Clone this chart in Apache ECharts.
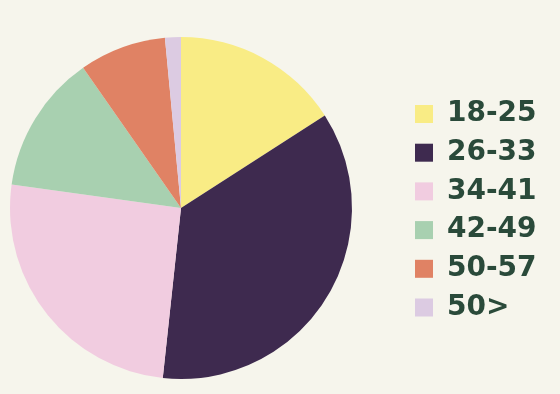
<!DOCTYPE html>
<html>
<head>
<meta charset="utf-8">
<script src="https://cdn.jsdelivr.net/npm/echarts@6/dist/echarts.min.js"></script>
<style>
html,body{margin:0;padding:0;background:#f6f5ec;}
#c{width:560px;height:394px;}
</style>
</head>
<body>
<div id="c"></div>
<script>
const categories = ['18-25', '26-33', '34-41', '42-49', '50-57', '50>'];
const values = [15.9, 35.8, 25.5, 13.1, 8.2, 1.5];
const colors = ['#f9ec85', '#3e2a4f', '#f1cce0', '#a8d0b0', '#e08264', '#dccbe2'];

const chart = echarts.init(document.getElementById('c'), null, {renderer: 'canvas'});
chart.setOption({
  backgroundColor: '#f6f5ec',
  animation: false,
  color: colors,
  legend: {
    orient: 'vertical',
    left: 415,
    top: 100,
    padding: 0,
    itemWidth: 18,
    itemHeight: 18,
    itemGap: 10.7,
    icon: 'rect',
    data: categories,
    textStyle: {
      fontFamily: 'DejaVu Sans',
      fontWeight: 'bold',
      fontSize: 28,
      lineHeight: 28,
      color: '#2a4a3a',
      padding: [0, 0, 0, 9]
    }
  },
  series: [{
    type: 'pie',
    center: [181, 208],
    radius: 171,
    startAngle: 90,
    clockwise: true,
    label: {show: false},
    labelLine: {show: false},
    emphasis: {disabled: true},
    itemStyle: {borderWidth: 0},
    data: categories.map((c, i) => ({name: c, value: values[i]}))
  }]
});
</script>
</body>
</html>
